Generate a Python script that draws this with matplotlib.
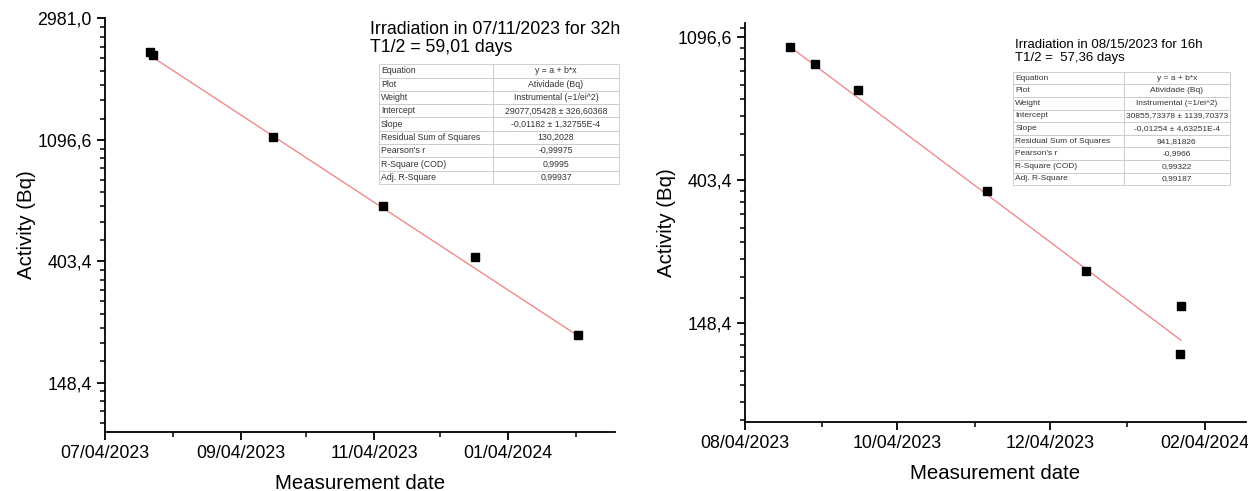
"""
Decaimento da atividade medida em duas irradiações (escala ln),
com ajuste linear e tabela de parâmetros no estilo do Origin.
"""

import numpy as np
import pandas as pd
import matplotlib
matplotlib.use('Agg')
import matplotlib.pyplot as plt
import matplotlib.dates as mdates
from matplotlib.ticker import FixedLocator

plt.rcParams['font.family'] = ['Liberation Sans', 'DejaVu Sans']

# ── Dados ─────────────────────────────────────────────────────────────────────
dates_1 = ['2023-07-24 12:00', '2023-07-26 00:00', '2023-09-18 17:00',
           '2023-11-08 00:00', '2023-12-20 00:00', '2024-02-05 00:00']
activity_1 = [2268, 2212, 1124, 634, 416, 220]
fit_dates_1 = ['2023-07-24 12:00', '2024-02-05 00:00']
fit_vals_1 = [2197, 218]

dates_2 = ['2023-08-22 00:00', '2023-09-01 00:00', '2023-09-18 07:00',
           '2023-11-08 22:00', '2023-12-18 14:00', '2024-01-25 14:00',
           '2024-01-25 05:00']
activity_2 = [1027, 910, 758, 374, 214, 167.5, 119.7]
fit_dates_2 = ['2023-08-22 00:00', '2024-01-25 12:00']
fit_vals_2 = [1027, 132]

title_1 = 'Irradiation in 07/11/2023 for 32h\nT1/2 = 59,01 days'
title_2 = 'Irradiation in 08/15/2023 for 16h\nT1/2 =  57,36 days'

table_keys = ['Equation', 'Plot', 'Weight', 'Intercept', 'Slope',
              'Residual Sum of Squares', "Pearson's r", 'R-Square (COD)',
              'Adj. R-Square']
table_vals_1 = ['y = a + b*x', 'Atividade (Bq)', 'Instrumental (=1/ei^2)',
                '29077,05428 ± 326,60368', '-0,01182 ± 1,32755E-4',
                '130,2028', '-0,99975', '0,9995', '0,99937']
table_vals_2 = ['y = a + b*x', 'Atividade (Bq)', 'Instrumental (=1/ei^2)',
                '30855,73378 ± 1139,70373', '-0,01254 ± 4,63251E-4',
                '941,81826', '-0,9966', '0,99322', '0,99187']

ytick_vals = [np.exp(5), np.exp(6), np.exp(7), np.exp(8)]
ytick_labels = ['148,4', '403,4', '1096,6', '2981,0']


def origin_minor(last_major):
    # minor ticks do Origin: divisão linear de cada intervalo e^n..e^(n+1);
    # acima do último major repete o passo do intervalo anterior
    ticks = []
    for n in range(3, last_major):
        lo, hi = np.exp(n), np.exp(n + 1)
        ticks += [lo + k * (hi - lo) / 9 for k in range(1, 9)]
    top, prev = np.exp(last_major), np.exp(last_major - 1)
    ticks += [top + k * (top - prev) / 9 for k in range(1, 9)]
    return ticks


def style_axes(ax, xlim, ylim, major_months, last_major):
    ax.set_yscale('log')
    ax.set_ylim(*ylim)
    ax.set_xlim(pd.to_datetime(xlim[0]), pd.to_datetime(xlim[1]))
    ax.yaxis.set_major_locator(FixedLocator(ytick_vals))
    ax.yaxis.set_minor_locator(FixedLocator(origin_minor(last_major)))
    ax.set_yticklabels(ytick_labels)
    ax.yaxis.set_minor_formatter(plt.NullFormatter())
    ax.xaxis.set_major_locator(mdates.MonthLocator(bymonth=major_months, bymonthday=4))
    ax.xaxis.set_minor_locator(mdates.MonthLocator(bymonthday=4))
    ax.xaxis.set_major_formatter(mdates.DateFormatter('%m/%d/%Y'))
    for s in ['top', 'right']:
        ax.spines[s].set_visible(False)
    for s in ['left', 'bottom']:
        ax.spines[s].set_linewidth(1.3)
    ax.tick_params(which='major', length=6, width=1.3, labelsize=12.8, direction='out')
    ax.tick_params(which='minor', length=3.5, width=1.1, direction='out')
    ax.set_xlabel('Measurement date', fontsize=14.7, labelpad=9)
    ax.set_ylabel('Activity (Bq)', fontsize=14.7, labelpad=1)


def add_table(ax, vals, bbox, col0, fs):
    cells = [[k, v] for k, v in zip(table_keys, vals)]
    tb = ax.table(cellText=cells, bbox=bbox, colWidths=[col0, 1 - col0])
    tb.auto_set_font_size(False)
    tb.set_fontsize(fs)
    for (r, c), cell in tb.get_celld().items():
        cell.set_edgecolor('#c8c8c8')
        cell.set_linewidth(0.6)
        cell.get_text().set_color('#333333')
        cell.get_text().set_ha('left' if c == 0 else 'center')
        cell.PAD = 0.02
    return tb


fig = plt.figure(figsize=(12.48, 4.91), dpi=100)
ax1 = fig.add_axes([0.0841, 0.1208, 0.4087, 0.8419])
ax2 = fig.add_axes([0.5970, 0.1411, 0.4014, 0.8114])

# ── Painel 1 ──────────────────────────────────────────────────────────────────
ax1.plot(pd.to_datetime(fit_dates_1), fit_vals_1, color='#f08a8a', lw=1.0)
ax1.plot(pd.to_datetime(dates_1), activity_1, 's', color='black', ms=6)
style_axes(ax1, ('2023-07-04', '2024-02-21 21:00'), (99, np.exp(8)),
           [1, 3, 5, 7, 9, 11], 8)
ax1.text(0.52, 0.993, title_1, transform=ax1.transAxes, fontsize=12.8,
         va='top', ha='left', linespacing=1.05)
add_table(ax1, table_vals_1, [0.537, 0.599, 0.471, 0.29], 0.475, 6.3)

# ── Painel 2 ──────────────────────────────────────────────────────────────────
ax2.plot(pd.to_datetime(fit_dates_2), fit_vals_2, color='#f08a8a', lw=1.0)
ax2.plot(pd.to_datetime(dates_2), activity_2, 's', color='black', ms=6)
style_axes(ax2, ('2023-08-04', '2024-02-20 14:00'), (74.6, 1210),
           [2, 4, 6, 8, 10, 12], 7)
ax2.text(0.539, 0.96, title_2, transform=ax2.transAxes, fontsize=9.5,
         va='top', ha='left', linespacing=1.1)
add_table(ax2, table_vals_2, [0.535, 0.594, 0.433, 0.284], 0.51, 6.0)

fig.savefig('out.png', dpi=100)
